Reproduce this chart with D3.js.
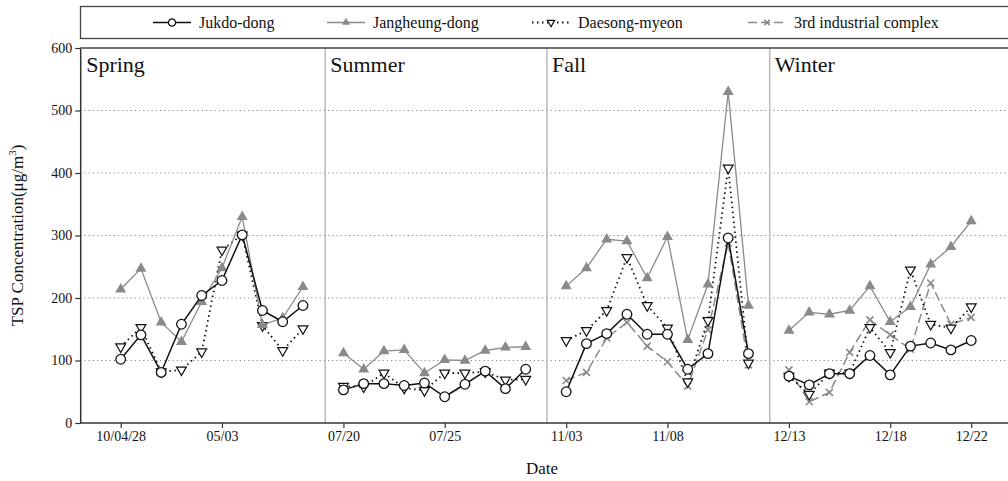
<!DOCTYPE html>
<html>
<head>
<meta charset="utf-8">
<script src="https://cdn.jsdelivr.net/npm/d3@7"></script>
<style>
  body { margin: 0; background: #fff; }
  svg { display: block; font-family: "Liberation Serif", "Times New Roman", serif; }
</style>
</head>
<body>
<svg id="chart" width="1008" height="481"></svg>
<script>
// sampling days, one block of ten per season
const seasons = ["Spring", "Summer", "Fall", "Winter"];
const dates = [
  ["04/28", "04/29", "04/30", "05/01", "05/02", "05/03", "05/04", "05/05", "05/06", "05/07"],
  ["07/20", "07/21", "07/22", "07/23", "07/24", "07/25", "07/26", "07/27", "07/28", "07/29"],
  ["11/03", "11/04", "11/05", "11/06", "11/07", "11/08", "11/09", "11/10", "11/11", "11/12"],
  ["12/13", "12/14", "12/15", "12/16", "12/17", "12/18", "12/19", "12/20", "12/21", "12/22"]
];
const tickDates = ["04/28", "05/03", "07/20", "07/25", "11/03", "11/08", "12/13", "12/18", "12/22"];
const tickLabels = ["10/04/28", "05/03", "07/20", "07/25", "11/03", "11/08", "12/13", "12/18", "12/22"];
const yTicks = [0, 100, 200, 300, 400, 500, 600];

// TSP concentration (ug/m3), spring..winter
const jukdo = [
  102, 141, 81, 158, 204, 228, 301, 180, 162, 188,
  53, 63, 63, 60, 64, 42, 62, 83, 55, 86,
  50, 127, 143, 174, 142, 142, 86, 111, 296, 111,
  75, 61, 79, 79, 108, 77, 123, 128, 117, 132
];
const jangheung = [
  214, 247, 161, 130, 194, 248, 330, 157, 168, 218,
  112, 86, 115, 117, 80, 101, 100, 116, 121, 122,
  219, 248, 294, 291, 232, 298, 133, 222, 530, 188,
  148, 177, 174, 180, 219, 162, 186, 254, 282, 323
];
const daesong = [
  122, 153, 82, 85, 114, 277, 301, 156, 116, 151,
  59, 58, 80, 56, 52, 80, 80, 82, 69, 70,
  132, 148, 180, 265, 188, 152, 66, 164, 408, 96,
  75, 46, 80, 80, 153, 113, 245, 158, 152, 186
];
const industrial = [
  null, null, null, null, null, null, null, null, null, null,
  null, null, null, null, null, null, null, null, null, null,
  68, 81, 136, 161, 123, 98, 59, 149, 288, 93,
  85, 34, 49, 113, 165, 141, 118, 224, 158, 169
];

const series = [
  { name: "Jukdo-dong", values: jukdo, color: "#111", width: 1.5, dash: null, symbol: "circle" },
  { name: "Jangheung-dong", values: jangheung, color: "#8a8a8a", width: 1.3, dash: null, symbol: "up" },
  { name: "Daesong-myeon", values: daesong, color: "#111", width: 1.8, dash: "1.5,3.5", symbol: "down" },
  { name: "3rd industrial complex", values: industrial, color: "#8a8a8a", width: 1.5, dash: "9,4", symbol: "x" }
];

const svg = d3.select("#chart");
const plotTop = 48, plotBottom = 423;

// one slot per day, with a one-day gap between seasons
const slot = (s, d) => s * 11 + d;
const slotOf = date => {
  for (let s = 0; s < dates.length; s++) {
    const d = dates[s].indexOf(date);
    if (d >= 0) return slot(s, d);
  }
};

const x = d3.scaleLinear().domain([-2, 44]).range([80.2, 1011.7]);
const y = d3.scaleLinear().domain([0, 600]).range([plotBottom, plotTop]);

// dotted grid
svg.append("g")
  .selectAll("line")
  .data(yTicks.filter(t => t > 0 && t < 600))
  .join("line")
    .attr("x1", x(-2)).attr("x2", 1008)
    .attr("y1", d => y(d)).attr("y2", d => y(d))
    .style("stroke", "#888")
    .style("stroke-width", 1)
    .style("stroke-dasharray", "1.2,3");

// season separators
const dividers = [10.1, 21.05, 32.05];
svg.append("g")
  .selectAll("line")
  .data(dividers)
  .join("line")
    .attr("x1", d => x(d)).attr("x2", d => x(d))
    .attr("y1", plotTop).attr("y2", plotBottom)
    .style("stroke", "#bdbdbd")
    .style("stroke-width", 1.6);

// top frame
svg.append("line")
  .attr("x1", x(-2)).attr("x2", 1008)
  .attr("y1", plotTop).attr("y2", plotTop)
  .style("stroke", "#444").style("stroke-width", 1.5);

// season titles
svg.append("g")
  .selectAll("text")
  .data(seasons)
  .join("text")
    .attr("x", (d, i) => i === 0 ? x(-2) + 6 : x(dividers[i - 1]) + 5)
    .attr("y", 72)
    .style("font-size", "22px")
    .style("fill", "#111")
    .text(d => d);

// axes
const xAxis = d3.axisBottom(x)
  .tickValues(tickDates.map(slotOf))
  .tickFormat((d, i) => tickLabels[i])
  .tickSizeOuter(0)
  .tickSize(5);
const gx = svg.append("g").attr("transform", `translate(0,${plotBottom})`).call(xAxis);
gx.select(".domain").attr("d", `M${x(-2)},0H1008`);

const yAxis = d3.axisLeft(y).tickValues(yTicks).tickSize(5).tickSizeOuter(0);
const gy = svg.append("g").attr("transform", `translate(${x(-2)},0)`).call(yAxis);

[gx, gy].forEach(g => {
  g.selectAll(".domain").style("stroke", "#333").style("stroke-width", 1.5);
  g.selectAll(".tick line").style("stroke", "#333").style("stroke-width", 1.2);
  g.selectAll("text").style("font-size", "14px").style("fill", "#111")
    .style("font-family", "'Liberation Serif', 'Times New Roman', serif");
});

// axis titles
svg.append("text")
  .attr("x", 542).attr("y", 474)
  .attr("text-anchor", "middle")
  .style("font-size", "17px").style("fill", "#111")
  .text("Date");

const ylab = svg.append("text")
  .attr("transform", `translate(23,${(plotTop + plotBottom) / 2}) rotate(-90)`)
  .attr("text-anchor", "middle")
  .style("font-size", "17px").style("fill", "#111");
ylab.append("tspan").text("TSP Concentration(μg/m");
ylab.append("tspan").attr("dy", -7).style("font-size", "11px").text("3");
ylab.append("tspan").attr("dy", 7).text(")");

// marker helper
function marker(sel, kind, color, scale) {
  scale = scale || 1;
  if (kind === "circle") {
    sel.append("circle").attr("r", 4.8 * scale)
      .style("fill", "#fff").style("stroke", color).style("stroke-width", 1.3);
  } else if (kind === "up") {
    sel.append("path").attr("d", d3.symbol(d3.symbolTriangle, 52 * scale * scale)())
      .style("fill", color);
  } else if (kind === "down") {
    sel.append("path").attr("d", d3.symbol(d3.symbolTriangle, 42 * scale * scale)())
      .attr("transform", "rotate(180)")
      .style("fill", "#fff").style("stroke", color).style("stroke-width", 1.2);
  } else {
    sel.append("path").attr("d", d3.symbol(d3.symbolX, 34 * scale * scale)())
      .style("fill", "none").style("stroke", color).style("stroke-width", 1.6);
  }
}

// lines, drawn season by season, back to front
const line = d3.line()
  .defined(d => d.v != null)
  .x(d => x(d.i))
  .y(d => y(d.v));

series.slice().reverse().forEach(s => {
  const g = svg.append("g");
  dates.forEach((days, si) => {
    const pts = days.map((day, di) => ({ i: slot(si, di), v: s.values[si * 10 + di] }));
    g.append("path")
      .datum(pts)
      .attr("d", line)
      .style("fill", "none")
      .style("stroke", s.color)
      .style("stroke-width", s.width)
      .style("stroke-dasharray", s.dash);
    g.selectAll(null)
      .data(pts.filter(p => p.v != null))
      .join("g")
        .attr("transform", p => `translate(${x(p.i)},${y(p.v)})`)
        .each(function() { marker(d3.select(this), s.symbol, s.color); });
  });
});

// legend
const legend = svg.append("g");
legend.append("rect")
  .attr("x", 80.5).attr("y", 6.5).attr("width", 960).attr("height", 32)
  .style("fill", "#fff").style("stroke", "#444").style("stroke-width", 1.3);

const legendX = [153, 327, 532, 748];
series.forEach((s, i) => {
  const item = legend.append("g").attr("transform", `translate(${legendX[i]},22.5)`);
  item.append("line")
    .attr("x1", 0).attr("x2", 38)
    .style("stroke", s.color)
    .style("stroke-width", s.width)
    .style("stroke-dasharray", s.dash);
  const m = item.append("g").attr("transform", "translate(19,0)");
  marker(m, s.symbol, s.color, 0.75);
  item.append("text")
    .attr("x", 46).attr("y", 5.5)
    .style("font-size", "16px").style("fill", "#111")
    .text(s.name);
});
</script>
</body>
</html>
